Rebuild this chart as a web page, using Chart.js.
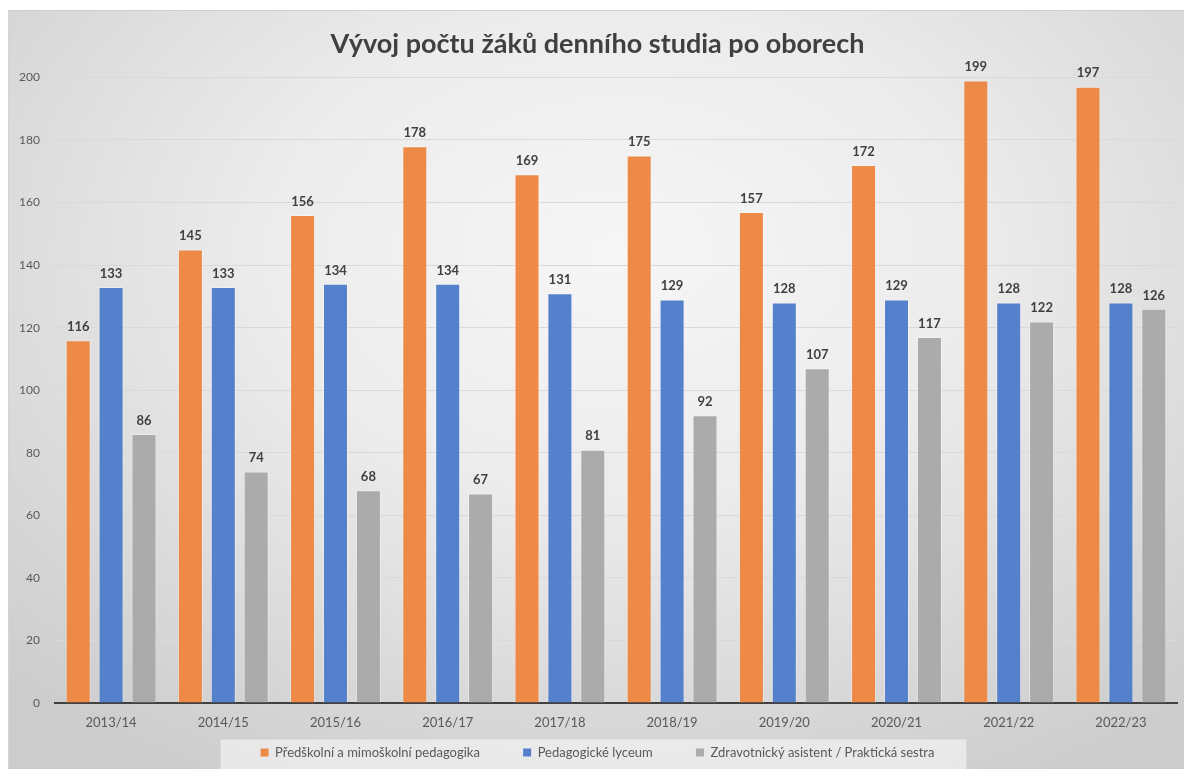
<!DOCTYPE html>
<html>
<head>
<meta charset="utf-8">
<script src="https://cdn.jsdelivr.net/npm/chart.js@4.4.0/dist/chart.umd.min.js"></script>
<style>
  html, body { margin: 0; padding: 0; background: #ffffff; }
  #frame {
    position: absolute; left: 8px; top: 10px; width: 1176px; height: 759px;
    background: radial-gradient(ellipse 75% 80% at 52% 32%, #f6f6f6 0%, #ececec 40%, #d9d9d9 75%, #cccccc 100%);
    border-top: 1px solid #cfcfcf; border-left: 1px solid #d4d4d4;
    box-sizing: border-box;
  }
  #chart { display: block; }
</style>
</head>
<body>
<div id="frame"><canvas id="chart" width="1175" height="758"></canvas></div>
<script>
// 年度
const years = ['2013/14', '2014/15', '2015/16', '2016/17', '2017/18', '2018/19', '2019/20', '2020/21', '2021/22', '2022/23'];
// 各学科の生徒数
const predskolni = [116, 145, 156, 178, 169, 175, 157, 172, 199, 197];
const lyceum = [133, 133, 134, 134, 131, 129, 128, 129, 128, 128];
const zdravotni = [86, 74, 68, 67, 81, 92, 107, 117, 122, 126];
const yTicks = [0, 20, 40, 60, 80, 100, 120, 140, 160, 180, 200];

const seriesNames = ['Předškolní a mimoškolní pedagogika', 'Pedagogické lyceum', 'Zdravotnický asistent / Praktická sestra'];
const seriesColors = ['#ee8a47', '#5581cc', '#ababab'];

const FONT = 'Lato, "Open Sans", sans-serif';
const GAP = '          '; // 凡例項目の間隔

// 棒の上に値を表示
const valueLabels = {
  id: 'valueLabels',
  afterDatasetsDraw(chart) {
    const ctx = chart.ctx;
    ctx.save();
    ctx.font = 'bold 13px ' + FONT;
    ctx.fillStyle = '#404040';
    ctx.textAlign = 'center';
    ctx.textBaseline = 'bottom';
    chart.data.datasets.forEach((ds, i) => {
      const meta = chart.getDatasetMeta(i);
      meta.data.forEach((bar, j) => {
        ctx.fillText(ds.data[j], bar.x, bar.y - 7);
      });
    });
    ctx.restore();
  }
};

// 凡例の背景ボックス
const legendBox = {
  id: 'legendBox',
  beforeDraw(chart) {
    const lg = chart.legend;
    if (!lg || !lg.legendHitBoxes || !lg.legendHitBoxes.length) return;
    const hb = lg.legendHitBoxes;
    const last = hb[hb.length - 1];
    const left = hb[0].left - 40;
    const right = last.left + last.width + 32;
    const midY = hb[0].top + hb[0].height / 2;
    const ctx = chart.ctx;
    ctx.save();
    ctx.fillStyle = 'rgba(240,240,240,0.75)';
    ctx.fillRect(left, midY - 13, right - left, chart.height - (midY - 13));
    ctx.restore();
  }
};

const ctx = document.getElementById('chart').getContext('2d');
new Chart(ctx, {
  type: 'bar',
  data: {
    labels: years,
    datasets: [predskolni, lyceum, zdravotni].map((d, i) => ({
      label: seriesNames[i],
      data: d,
      backgroundColor: seriesColors[i],
      borderColor: 'rgba(255,255,255,0.35)',
      borderWidth: 1,
      categoryPercentage: 0.88,
      barPercentage: 0.76
    }))
  },
  options: {
    responsive: false,
    animation: false,
    layout: { padding: { left: 9, right: 7, top: 0, bottom: 0 } },
    plugins: {
      title: {
        display: true,
        text: 'Vývoj počtu žáků denního studia po oborech',
        color: '#404040',
        font: { family: FONT, size: 27, weight: 'bold' },
        padding: { top: 17, bottom: 17 }
      },
      legend: {
        position: 'bottom',
        labels: {
          color: '#595959',
          font: { family: FONT, size: 13 },
          boxWidth: 8,
          boxHeight: 8,
          padding: 10,
          generateLabels(chart) {
            const items = Chart.defaults.plugins.legend.labels.generateLabels(chart);
            return items.map((it, i) => {
              it.lineWidth = 0;
              if (i < items.length - 1) it.text = it.text + GAP;
              return it;
            });
          }
        }
      },
      tooltip: { enabled: false }
    },
    scales: {
      x: {
        grid: { display: false, drawTicks: false },
        border: { display: true, color: '#404040', width: 2 },
        ticks: { color: '#595959', font: { family: FONT, size: 13 }, padding: 12 },
        afterFit(s) { s.height = 33; }
      },
      y: {
        min: 0,
        max: 200,
        afterBuildTicks(s) { s.ticks = yTicks.map(v => ({ value: v })); },
        grid: { color: '#d9d9d9', lineWidth: 1, drawTicks: false },
        border: { display: false },
        ticks: { color: '#595959', font: { family: FONT, size: 12 }, padding: 15 },
        afterFit(s) { s.width = 37; }
      }
    }
  },
  plugins: [legendBox, valueLabels]
});
</script>
</body>
</html>
